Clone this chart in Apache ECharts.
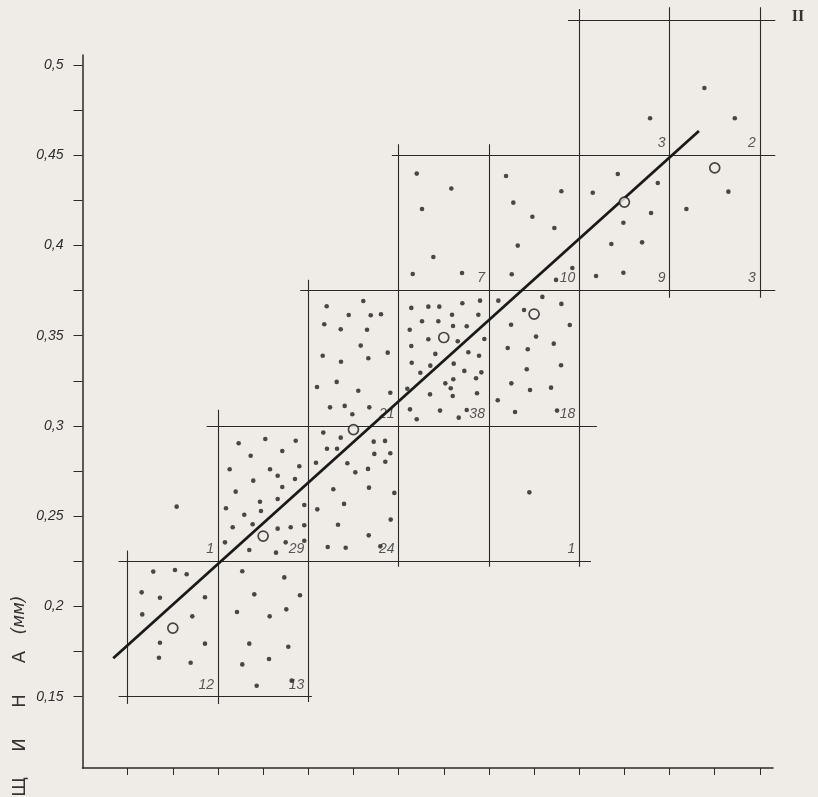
<!DOCTYPE html>
<html lang="ru">
<head>
    <meta charset="UTF-8">
    <title>Толщина</title>
    <script src="https://cdn.jsdelivr.net/npm/echarts@6/dist/echarts.min.js"></script>
    <style>
        html, body {margin: 0; padding: 0; background: #efece7;}
        #main {width: 818px; height: 797px;}
    </style>
</head>
<body>
<div id="main"></div>
<script>
    // ось x без подписей: деления 1..15, клетки по 2 деления
    const xTicks = [1, 2, 3, 4, 5, 6, 7, 8, 9, 10, 11, 12, 13, 14, 15];
    const yTicks = [0.15, 0.175, 0.2, 0.225, 0.25, 0.275, 0.3, 0.325, 0.35, 0.375, 0.4, 0.425, 0.45, 0.475, 0.5];
    const yLabels = [0.15, 0.2, 0.25, 0.3, 0.35, 0.4, 0.45, 0.5];

    // границы клеток: [y, x от, x до] и [x, y от, y до]
    const hLines = [
        [0.15, 0.8, 5.08],
        [0.225, 0.8, 11.26],
        [0.3, 2.75, 11.39],
        [0.375, 4.82, 15.34],
        [0.45, 6.85, 15.34],
        [0.525, 10.75, 15.34]
    ];
    const vLines = [
        [1, 0.146, 0.231],
        [3, 0.146, 0.309],
        [5, 0.147, 0.381],
        [7, 0.222, 0.456],
        [9, 0.222, 0.456],
        [11, 0.222, 0.531],
        [13, 0.371, 0.532],
        [15, 0.371, 0.532]
    ];

    // число точек в клетке, подпись у правого нижнего угла
    const countX = [3, 5, 3, 5, 7, 11, 7, 9, 11, 9, 11, 13, 15, 13, 15];
    const countY = [0.15, 0.15, 0.225, 0.225, 0.225, 0.225, 0.3, 0.3, 0.3, 0.375, 0.375, 0.375, 0.375, 0.45, 0.45];
    const countText = ['12', '13', '1', '29', '24', '1', '21', '38', '18', '7', '10', '9', '3', '3', '2'];

    // средние по клеткам (кружки)
    const meanX = [2, 4, 6, 8, 10, 12, 14];
    const meanY = [0.188, 0.239, 0.298, 0.349, 0.362, 0.424, 0.443];

    // линия регрессии
    const trendX = [0.68, 13.65];
    const trendY = [0.1713, 0.4634];

    // отдельные измерения
    const dots = [
        // 12
        [1.567, 0.2193], [2.048, 0.2202], [2.307, 0.2178], [1.310, 0.2078], [1.715, 0.2048], [2.712, 0.2051],
        [1.323, 0.1956], [2.431, 0.1945], [1.715, 0.1799], [2.712, 0.1794], [1.693, 0.1716], [2.395, 0.1688],
        // 13
        [3.538, 0.2195], [4.468, 0.2161], [3.804, 0.2067], [4.816, 0.2062], [3.421, 0.1969], [4.145, 0.1945],
        [4.513, 0.1984], [3.693, 0.1794], [4.557, 0.1777], [3.538, 0.1679], [4.130, 0.1709], [3.857, 0.1561],
        [4.632, 0.1589],
        // 1
        [2.085, 0.2553],
        // 29
        [3.458, 0.2904], [4.048, 0.2928], [4.721, 0.2918], [3.724, 0.2835], [4.424, 0.2861], [3.259, 0.2760],
        [4.152, 0.2760], [4.801, 0.2777], [3.782, 0.2697], [4.322, 0.2724], [4.705, 0.2706], [3.392, 0.2636],
        [4.424, 0.2662], [3.930, 0.2580], [4.322, 0.2595], [4.911, 0.2562], [3.177, 0.2544], [3.952, 0.2529],
        [3.582, 0.2508], [3.326, 0.2439], [3.768, 0.2455], [4.322, 0.2431], [4.610, 0.2439], [4.911, 0.2450],
        [3.155, 0.2355], [3.693, 0.2313], [4.285, 0.2298], [4.499, 0.2355], [4.911, 0.2364],
        // 24
        [5.332, 0.2963], [5.718, 0.2935], [5.414, 0.2874], [5.636, 0.2874], [6.448, 0.2913], [6.699, 0.2917],
        [6.462, 0.2845], [6.816, 0.2849], [5.170, 0.2796], [5.864, 0.2793], [6.705, 0.2802], [6.041, 0.2743],
        [6.322, 0.2762], [5.554, 0.2649], [6.344, 0.2658], [6.905, 0.2629], [5.199, 0.2538], [5.791, 0.2568],
        [6.825, 0.2481], [5.658, 0.2453], [6.338, 0.2394], [5.430, 0.2329], [5.828, 0.2325], [6.595, 0.2333],
        // 21
        [5.407, 0.3663], [6.218, 0.3692], [5.895, 0.3615], [6.382, 0.3613], [6.610, 0.3619], [5.354, 0.3563],
        [5.718, 0.3536], [6.300, 0.3533], [6.161, 0.3445], [5.319, 0.3389], [5.724, 0.3356], [6.329, 0.3375],
        [6.759, 0.3406], [5.629, 0.3244], [5.193, 0.3216], [6.107, 0.3195], [6.816, 0.3184], [5.481, 0.3103],
        [5.806, 0.3111], [5.975, 0.3065], [6.351, 0.3103],
        // 38
        [7.281, 0.3654], [7.658, 0.3661], [7.901, 0.3661], [8.411, 0.3680], [8.803, 0.3694], [7.518, 0.3580],
        [7.879, 0.3580], [8.183, 0.3616], [8.765, 0.3616], [7.246, 0.3533], [8.205, 0.3554], [8.508, 0.3552],
        [7.658, 0.3480], [8.309, 0.3469], [8.898, 0.3482], [7.281, 0.3443], [7.813, 0.3399], [8.544, 0.3408],
        [8.781, 0.3389], [7.290, 0.3350], [7.702, 0.3334], [8.220, 0.3345], [7.481, 0.3295], [8.455, 0.3305],
        [8.832, 0.3297], [8.034, 0.3236], [8.211, 0.3259], [8.714, 0.3264], [7.193, 0.3206], [8.154, 0.3209],
        [7.695, 0.3175], [8.198, 0.3166], [8.736, 0.3181], [7.252, 0.3092], [7.917, 0.3085], [8.508, 0.3088],
        [7.401, 0.3037], [8.331, 0.3046],
        // 18
        [9.208, 0.3694], [10.183, 0.3715], [10.604, 0.3676], [9.777, 0.3642], [9.490, 0.3561], [10.790, 0.3559],
        [10.043, 0.3495], [9.416, 0.3432], [9.859, 0.3425], [10.435, 0.3456], [9.837, 0.3314], [10.597, 0.3336],
        [9.496, 0.3236], [9.910, 0.3199], [10.375, 0.3212], [9.195, 0.3142], [9.578, 0.3077], [10.508, 0.3085],
        // 1
        [9.895, 0.2632],
        // 7
        [7.401, 0.4398], [8.167, 0.4315], [7.518, 0.4202], [7.769, 0.3936], [7.312, 0.3842], [8.404, 0.3847],
        // 10
        [9.379, 0.4385], [10.604, 0.4300], [9.540, 0.4237], [9.961, 0.4159], [10.449, 0.4097], [9.638, 0.3999],
        [10.847, 0.3875], [9.505, 0.3840], [10.486, 0.3809],
        // 9
        [11.853, 0.4396], [12.739, 0.4346], [11.299, 0.4292], [12.590, 0.4180], [11.977, 0.4126], [11.711, 0.4008],
        [12.391, 0.4017], [11.372, 0.3831], [11.977, 0.3849],
        // 3 (низ)
        [14.302, 0.4298], [13.372, 0.4202],
        // 3 (верх)
        [12.568, 0.4705],
        // 2
        [13.771, 0.4872], [14.444, 0.4705]
    ];

    let ink = '#2a2a2a';
    let labelFont = 'Liberation Sans';

    let segs = [];
    hLines.forEach(h => segs.push({coords: [[h[1], h[0]], [h[2], h[0]]]}));
    vLines.forEach(v => segs.push({coords: [[v[0], v[1]], [v[0], v[2]]]}));

    let myChart = echarts.init(document.getElementById('main'));

    let option = {
        backgroundColor: '#efece7',
        animation: false,
        grid: {left: 82.5, right: 45, top: 55, bottom: 29},
        xAxis: {
            type: 'value',
            min: 0,
            max: 15.29,
            axisLine: {lineStyle: {color: ink, width: 1.5}},
            axisTick: {show: true, length: 7, customValues: xTicks, lineStyle: {color: ink, width: 1}},
            axisLabel: {show: false},
            splitLine: {show: false}
        },
        yAxis: {
            type: 'value',
            min: 0.1105,
            max: 0.5055,
            axisLine: {show: true, lineStyle: {color: ink, width: 1.5}},
            axisTick: {show: true, length: 9, customValues: yTicks, lineStyle: {color: ink, width: 1}},
            axisLabel: {
                customValues: yLabels,
                margin: 19,
                fontFamily: labelFont,
                fontStyle: 'italic',
                fontSize: 14,
                color: '#2e2e2e',
                formatter: function (v) {
                    return v.toFixed(2).replace(/0$/, '').replace('.', ',');
                }
            },
            splitLine: {show: false}
        },
        graphic: [
            {type: 'text', x: 20, y: 787, rotation: Math.PI / 2, style: {text: 'Щ', fontSize: 18, fill: '#333', align: 'center', verticalAlign: 'middle', fontFamily: 'DejaVu Sans'}},
            {type: 'text', x: 20, y: 745, rotation: Math.PI / 2, style: {text: 'И', fontSize: 18, fill: '#333', align: 'center', verticalAlign: 'middle', fontFamily: 'DejaVu Sans'}},
            {type: 'text', x: 20, y: 701, rotation: Math.PI / 2, style: {text: 'Н', fontSize: 18, fill: '#333', align: 'center', verticalAlign: 'middle', fontFamily: 'DejaVu Sans'}},
            {type: 'text', x: 20, y: 657, rotation: Math.PI / 2, style: {text: 'А', fontSize: 18, fill: '#333', align: 'center', verticalAlign: 'middle', fontFamily: 'DejaVu Sans'}},
            {type: 'text', x: 20, y: 615, rotation: Math.PI / 2, style: {text: '(мм)', fontSize: 17, fontStyle: 'italic', fill: '#333', align: 'center', verticalAlign: 'middle', fontFamily: 'DejaVu Sans'}},
            {type: 'text', x: 798, y: 17, style: {text: 'II', fontSize: 16, fontWeight: 'bold', fill: '#333', align: 'center', verticalAlign: 'middle', fontFamily: 'Liberation Serif'}}
        ],
        series: [
            {
                name: 'клетки',
                type: 'lines',
                coordinateSystem: 'cartesian2d',
                clip: false,
                silent: true,
                lineStyle: {color: ink, width: 1.1, opacity: 1},
                data: segs
            },
            {
                name: 'точки',
                type: 'scatter',
                symbol: 'circle',
                symbolSize: 4.6,
                itemStyle: {color: '#1e1e1e'},
                clip: false,
                data: dots
            },
            {
                name: 'регрессия',
                type: 'line',
                symbol: 'none',
                lineStyle: {color: '#1a1a1a', width: 2.8},
                data: trendX.map((x, i) => [x, trendY[i]])
            },
            {
                name: 'средние',
                type: 'scatter',
                symbol: 'circle',
                symbolSize: 10,
                itemStyle: {color: '#efece7', borderColor: '#1a1a1a', borderWidth: 1.7},
                z: 5,
                data: meanX.map((x, i) => [x, meanY[i]])
            },
            {
                name: 'число',
                type: 'scatter',
                symbolSize: 0,
                clip: false,
                label: {
                    show: true,
                    position: 'left',
                    distance: 4,
                    offset: [0, -12],
                    formatter: p => p.data[2],
                    fontFamily: labelFont,
                    fontStyle: 'italic',
                    fontSize: 14,
                    color: '#2e2e2e'
                },
                data: countX.map((x, i) => [x, countY[i], countText[i]])
            }
        ]
    };

    myChart.setOption(option);
</script>
</body>
</html>
